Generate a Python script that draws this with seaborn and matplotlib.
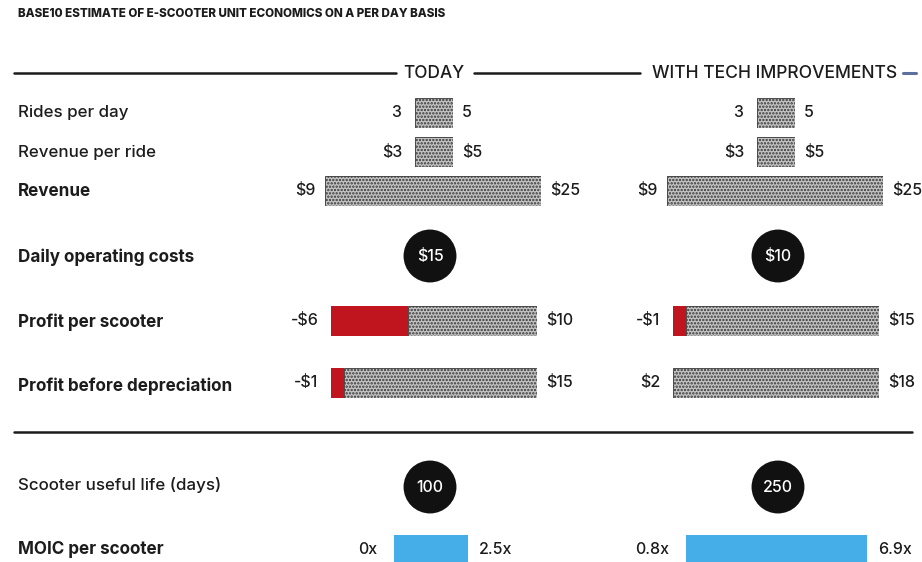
import matplotlib
matplotlib.use("Agg")
import matplotlib.pyplot as plt
import pandas as pd
import seaborn as sns

sns.set_theme(style="white")
plt.rcParams["font.family"] = ["Inter", "DejaVu Sans"]
plt.rcParams["hatch.linewidth"] = 1.15

# ---------------------------------------------------------------- data
title = "BASE10 ESTIMATE OF E-SCOOTER UNIT ECONOMICS ON A PER DAY BASIS"
scenarios = ["TODAY", "WITH TECH IMPROVEMENTS"]

row_labels = ["Rides per day", "Revenue per ride", "Revenue",
              "Daily operating costs", "Profit per scooter",
              "Profit before depreciation", "Scooter useful life (days)",
              "MOIC per scooter"]
row_bold = [False, False, True, True, True, True, False, True]

rides_low = [3, 3]
rides_high = [5, 5]
rev_ride_low = [3, 3]
rev_ride_high = [5, 5]
revenue_low = [9, 9]
revenue_high = [25, 25]
op_costs = [15, 10]
profit_low = [-6, -1]
profit_high = [10, 15]
pbd_low = [-1, 2]
pbd_high = [15, 18]
useful_life = [100, 250]
moic_low = [0, 0.8]
moic_high = [2.5, 6.9]

# ---------------------------------------------------------------- style
W, H = 922, 562
INK = "#1c1c1c"
RED = "#c0141f"
BLUE = "#45aee8"
FACE = "#c4c4c4"
DOTS = "#363636"
FS = 11.5

fig = plt.figure(figsize=(W / 100, H / 100), dpi=100)
fig.patch.set_facecolor("white")

# background axes in pixel units for text and rules
bg = fig.add_axes([0, 0, 1, 1])
bg.set_xlim(0, W)
bg.set_ylim(H, 0)
bg.axis("off")

bg.text(18, 14, title, fontsize=8.4, fontweight=800, color=INK,
        va="center", ha="left")

# header rules
bg.plot([14, 396], [73, 73], color=INK, lw=1.8)
bg.text(434, 73, scenarios[0], fontsize=12.4, color=INK, ha="center",
        va="center", fontweight="medium")
bg.plot([474, 640], [73, 73], color=INK, lw=1.8)
bg.text(652, 73, scenarios[1], fontsize=12.6, color=INK, ha="left",
        va="center", fontweight="medium")
bg.plot([903, 916], [73, 73], color="#5d6f9c", lw=2.2)
bg.plot([14, 912], [432, 432], color=INK, lw=1.8)

row_y = [113, 153, 191, 257, 322, 386, 485, 549]
for lab, bold, y in zip(row_labels, row_bold, row_y):
    bg.text(18, y, lab, fontsize=12.3 if bold else 12.2, color=INK,
            ha="left", va="center",
            fontweight="bold" if bold else "medium")

BAR_H = 30


def range_bar(x_left, yc, px_per_unit, lo, hi, kind, lo_txt, hi_txt,
              lgap=8.0, rgap=6.5):
    """Bar spanning lo..hi; the part below zero is shown in red."""
    width_px = (hi - lo) * px_per_unit
    ax = fig.add_axes([x_left / W, 1 - (yc + BAR_H / 2) / H,
                       width_px / W, BAR_H / H])
    df = pd.DataFrame({"row": ["r"], "value": [hi]})
    if kind == "moic":
        sns.barplot(data=df, x="value", y="row", orient="h", ax=ax,
                    color=BLUE, saturation=1, width=1.0, errorbar=None,
                    linewidth=0)
    else:
        sns.barplot(data=df, x="value", y="row", orient="h", ax=ax,
                    color=FACE, saturation=1, width=1.0, errorbar=None,
                    hatch=".....", edgecolor=DOTS, linewidth=0.6)
    # the filled segment starts at the lower end of the positive range
    for p in ax.patches:
        left = max(lo, 0)
        p.set_x(left)
        p.set_width(hi - left)
    if lo < 0:
        neg = pd.DataFrame({"row": ["r"], "value": [lo]})
        sns.barplot(data=neg, x="value", y="row", orient="h", ax=ax,
                    color=RED, saturation=1, width=1.0, errorbar=None,
                    linewidth=0)
    ax.set_xlim(lo, hi)
    ax.set_ylim(0.5, -0.5)
    ax.axis("off")
    ax.annotate(lo_txt, xy=(lo, 0), xytext=(-lgap, 0),
                textcoords="offset points", ha="right", va="center",
                fontsize=FS, color=INK, fontweight="medium",
                annotation_clip=False)
    ax.annotate(hi_txt, xy=(hi, 0), xytext=(rgap, 0),
                textcoords="offset points", ha="left", va="center",
                fontsize=FS, color=INK, fontweight="medium",
                annotation_clip=False)


def money(v):
    return f"-${abs(v):g}" if v < 0 else f"${v:g}"


# column anchors (left edge of bars, px) and scales (px per unit)
rides_x = [415, 757]
revenue_x = [325, 667]
profit_x = [331, 673]
moic_x = [394, 686]
circle_x = [430, 778]

for c in range(2):
    range_bar(rides_x[c], 113, 19.0, rides_low[c], rides_high[c], "plain",
              f"{rides_low[c]}", f"{rides_high[c]}", lgap=10)
    range_bar(rides_x[c], 152, 19.0, rev_ride_low[c], rev_ride_high[c],
              "plain", money(rev_ride_low[c]), money(rev_ride_high[c]),
              lgap=9)
    range_bar(revenue_x[c], 191, 13.5, revenue_low[c], revenue_high[c],
              "plain", money(revenue_low[c]), money(revenue_high[c]),
              lgap=7)
    range_bar(profit_x[c], 321, 12.85, profit_low[c], profit_high[c],
              "profit", money(profit_low[c]), money(profit_high[c]),
              lgap=9, rgap=6.5)
    range_bar(profit_x[c], 383, 12.85, pbd_low[c], pbd_high[c],
              "profit", money(pbd_low[c]), money(pbd_high[c]),
              lgap=9, rgap=6.5)
    range_bar(moic_x[c], 550, 29.6, moic_low[c], moic_high[c], "moic",
              f"{moic_low[c]:g}x", f"{moic_high[c]:g}x", lgap=12, rgap=8)

# value bubbles
bub = pd.DataFrame({
    "x": circle_x + circle_x,
    "y": [256, 256, 487, 487],
    "txt": [f"${v}" for v in op_costs] + [f"{v}" for v in useful_life],
})
sns.scatterplot(data=bub, x="x", y="y", ax=bg, s=1450, color="#111111",
                edgecolor="none", legend=False, zorder=3)
for _, r in bub.iterrows():
    bg.text(r["x"], r["y"], r["txt"], color="white", fontsize=11.5,
            fontweight="medium", ha="center", va="center", zorder=4)
bg.set_xlim(0, W)
bg.set_ylim(H, 0)
bg.axis("off")

fig.savefig("out.png", dpi=100, facecolor="white")
